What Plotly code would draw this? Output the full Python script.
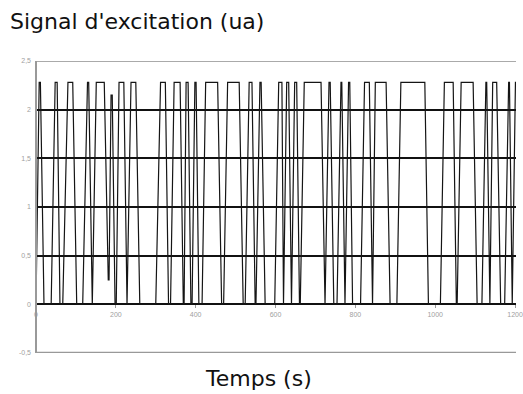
import plotly.graph_objects as go

# Plateaus of the excitation signal (start time s, end time s, level ua)
plateau_start = [0, 8, 20, 48, 60, 80, 102, 129, 141, 151, 181, 188, 198, 208, 228, 238,
                 260, 312, 332, 346, 369, 376, 388, 398, 408, 425, 465, 480, 519, 534,
                 549, 561, 574, 608, 620, 628, 640, 648, 660, 672, 724, 734, 746, 764,
                 774, 783, 793, 823, 843, 850, 887, 914, 983, 1023, 1053, 1065, 1105,
                 1127, 1137, 1144, 1164, 1184, 1193, 1201]
plateau_end = [0, 11, 38, 53, 67, 92, 117, 132, 141, 171, 183, 191, 201, 220, 228, 250,
               300, 324, 337, 361, 371, 381, 391, 401, 416, 455, 470, 509, 524, 541,
               551, 564, 598, 616, 620, 633, 640, 653, 662, 714, 724, 737, 754, 766,
               774, 786, 813, 835, 843, 877, 904, 974, 1013, 1045, 1055, 1095, 1117,
               1129, 1137, 1154, 1174, 1186, 1193, 1206]
plateau_level = [0, 2.28, 0, 2.28, 0, 2.28, 0, 2.28, 0, 2.28, 0.25, 2.15, 0, 2.28, 0, 2.28,
                 0, 2.28, 0, 2.28, 0, 2.28, 0, 2.28, 0, 2.28, 0, 2.28, 0, 2.28,
                 0, 2.28, 0, 2.28, 0, 2.28, 0, 2.28, 0, 2.28, 0, 2.28, 0, 2.28,
                 0, 2.28, 0, 2.28, 0, 2.28, 0, 2.28, 0, 2.28, 0, 2.28, 0,
                 2.28, 0, 2.28, 0, 2.28, 0, 2.28]

y_ticks = [-0.5, 0, 0.5, 1, 1.5, 2, 2.5]
y_labels = ["-0,5", "0", "0,5", "1", "1,5", "2", "2,5"]
x_ticks = [0, 200, 400, 600, 800, 1000, 1200]
x_labels = ["0", "200", "400", "600", "800", "1000", "1200"]

xs, ys = [], []
for s, e, v in zip(plateau_start, plateau_end, plateau_level):
    xs += [s, e]
    ys += [v, v]

fig = go.Figure()
fig.add_trace(go.Scatter(x=xs, y=ys, mode="lines",
                         line=dict(color="#151515", width=1.2),
                         showlegend=False, hoverinfo="skip"))

tickfont = dict(family="Liberation Sans, Arial, sans-serif", size=7, color="#a0a0a0")
bigfont = dict(family="DejaVu Sans, sans-serif", size=22, color="#111111")

fig.update_layout(
    width=523, height=394,
    margin=dict(l=36, r=0, t=61, b=41),
    paper_bgcolor="white", plot_bgcolor="white",
    title=dict(text="Signal d'excitation (ua)", font=bigfont,
               xref="container", x=10/523, xanchor="left",
               yref="container", y=1 - 21/394, yanchor="middle"),
    xaxis=dict(range=[0, 1202.4], tickvals=x_ticks, ticktext=x_labels,
               anchor="free", position=1/6, showline=False, zeroline=False,
               showgrid=False, ticks="outside", ticklen=3, tickcolor="#999999",
               ticklabeloverflow="allow", tickfont=tickfont),
    yaxis=dict(range=[-0.5, 2.5], tickvals=y_ticks, ticktext=y_labels,
               showgrid=True, gridcolor="#111111", gridwidth=1.5,
               zeroline=False, showline=False, ticks="",
               ticklabelstandoff=4, tickfont=tickfont),
    annotations=[dict(text="Temps (s)", xref="paper", yref="paper",
                      x=(262 - 36) / 487, y=-25/292, xanchor="center", yanchor="middle",
                      showarrow=False, font=bigfont)],
    shapes=[
        dict(type="line", xref="paper", yref="y", x0=0, x1=1, y0=2.5, y1=2.5,
             line=dict(color="#aaaaaa", width=2), layer="above"),
        dict(type="line", xref="paper", yref="y", x0=0, x1=1, y0=-0.5, y1=-0.5,
             line=dict(color="#999999", width=2.5), layer="above"),
        dict(type="line", xref="paper", yref="paper", x0=0, x1=0, y0=0, y1=1,
             line=dict(color="#999999", width=2), layer="above"),
    ],
)

fig.write_html("out.html")
